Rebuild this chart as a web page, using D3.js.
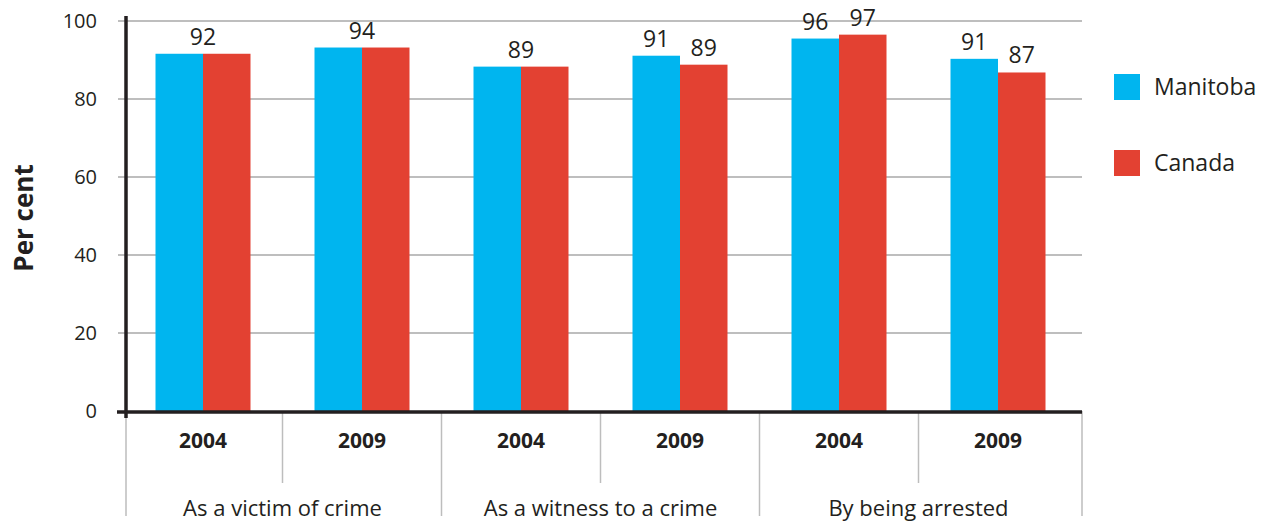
<!DOCTYPE html>
<html><head><meta charset="utf-8">
<script src="https://cdn.jsdelivr.net/npm/d3@7"></script>
<style>body{margin:0;background:#fff}svg{display:block}text{font-family:"Open Sans",sans-serif;fill:#231f20}</style>
</head><body><svg id="c" width="1268" height="523"></svg>
<script>
const categories = ["As a victim of crime", "As a witness to a crime", "By being arrested"];
const years = ["2004", "2009"];
const series = ["Manitoba", "Canada"];
const manitobaValues = [91.6, 93.2, 88.3, 91.1, 95.5, 90.3];
const canadaValues   = [91.6, 93.2, 88.3, 88.8, 96.5, 86.8];
const manitobaLabels = ["92", "94", "89", "91", "96", "91"];
const canadaLabels   = ["92", "94", "89", "89", "97", "87"];
const yTicks = [0, 20, 40, 60, 80, 100];
const colors = ["#00b5ef", "#e34132"];

(function () {
const svg = d3.select("#c");
const mLeft = 126, mRight = 1082, mTop = 21, mBottom = 411;
const groups = [];
categories.forEach((c, ci) => years.forEach((yr) => groups.push({cat: c, ci, year: yr, key: ci + "-" + yr})));
const x = d3.scaleBand().domain(groups.map(g => g.key)).range([123.5, 1077.5]).paddingInner(0).paddingOuter(0);
const y = d3.scaleLinear().domain([0, 100]).range([mBottom, mTop]);
const bw = 47.5;

// gridlines
svg.append("g").selectAll("line").data(yTicks.filter(t => t > 0)).join("line")
  .attr("x1", 118).attr("x2", mRight).attr("y1", d => y(d)).attr("y2", d => y(d))
  .attr("stroke", "#a8a8a8").attr("stroke-width", 1.5);
// tick labels
svg.append("g").selectAll("text").data(yTicks).join("text")
  .attr("x", 97).attr("y", d => y(d)).attr("dy", "0.35em").attr("text-anchor", "end")
  .attr("font-size", 20).text(d => d);

// bars
const bars = svg.append("g");
groups.forEach((g, i) => {
  const cx = x(g.key) + x.bandwidth() / 2;
  const vals = [manitobaValues[i], canadaValues[i]];
  vals.forEach((v, si) => {
    bars.append("rect").attr("x", cx - bw + si * bw).attr("width", bw)
      .attr("y", y(v)).attr("height", y(0) - y(v)).attr("fill", colors[si]);
  });
  const lm = manitobaLabels[i], lc = canadaLabels[i];
  if (lm === lc) {
    svg.append("text").attr("x", cx).attr("y", y(Math.max(...vals)) - 9).attr("text-anchor", "middle")
      .attr("font-size", 23).text(lm);
  } else {
    [lm, lc].forEach((l, si) => {
      svg.append("text").attr("x", cx - bw / 2 + si * bw).attr("y", y(vals[si]) - 9)
        .attr("text-anchor", "middle").attr("font-size", 23).text(l);
    });
  }
});

// separators
groups.forEach((g, i) => {
  const isCatEnd = i % 2 === 1;
  const xr = i === groups.length - 1 ? mRight : x(g.key) + x.bandwidth();
  svg.append("line").attr("x1", xr).attr("x2", xr).attr("y1", mBottom).attr("y2", isCatEnd ? 516 : 483)
    .attr("stroke", "#bdbdbd").attr("stroke-width", 1.5);
  svg.append("text").attr("x", x(g.key) + x.bandwidth() / 2).attr("y", 448)
    .attr("text-anchor", "middle").attr("font-size", 21).attr("font-weight", "bold").text(g.year);
});
svg.append("line").attr("x1", mLeft).attr("x2", mLeft).attr("y1", mBottom).attr("y2", 516)
  .attr("stroke", "#bdbdbd").attr("stroke-width", 1.5);
categories.forEach((c, ci) => {
  const cx = x(ci + "-" + years[1]);
  svg.append("text").attr("x", cx).attr("y", 516).attr("text-anchor", "middle")
    .attr("font-size", 22).text(c);
});

// axes
svg.append("line").attr("x1", mLeft).attr("x2", mLeft).attr("y1", 16).attr("y2", 418)
  .attr("stroke", "#231f20").attr("stroke-width", 3.5);
svg.append("line").attr("x1", 117).attr("x2", mRight).attr("y1", mBottom + 1).attr("y2", mBottom + 1)
  .attr("stroke", "#231f20").attr("stroke-width", 3.5);

// y title
svg.append("text").attr("transform", "translate(33,218) rotate(-90)").attr("text-anchor", "middle")
  .attr("font-size", 26).attr("font-weight", "bold").text("Per cent");

// legend
series.forEach((s, si) => {
  const ly = 74 + si * 76;
  svg.append("rect").attr("x", 1114).attr("y", ly).attr("width", 26).attr("height", 26).attr("fill", colors[si]);
  svg.append("text").attr("x", 1154).attr("y", ly + 13).attr("dy", "0.35em").attr("font-size", 23).text(s);
});
})();
</script></body></html>
